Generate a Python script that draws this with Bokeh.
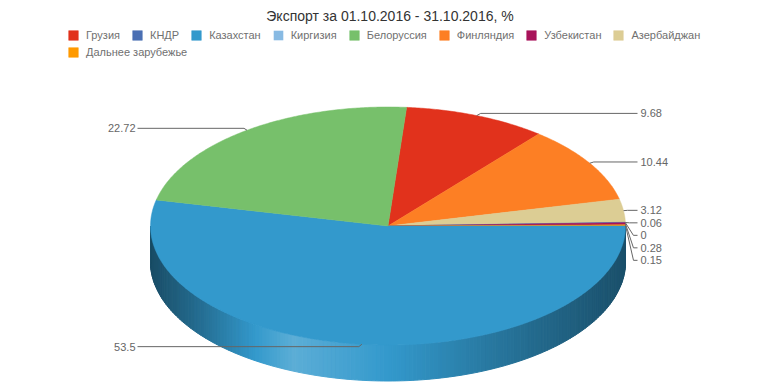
import math
import numpy as np
from bokeh.plotting import figure
from bokeh.models import Range1d, Legend, LegendItem, Label, ColumnDataSource
from bokeh.embed import file_html
from bokeh.resources import INLINE
from bokeh.core.properties import value

# ---------------- data ----------------
title_text = "Экспорт за 01.10.2016 - 31.10.2016, %"
countries = ["Грузия", "КНДР", "Казахстан", "Киргизия", "Белоруссия",
             "Финляндия", "Узбекистан", "Азербайджан", "Дальнее зарубежье"]
shares = [9.68, 0.06, 53.5, 0, 22.72, 10.44, 0.28, 3.12, 0.15]
colors = ["#e1321c", "#4b6fb3", "#3399cc", "#88bae3", "#77c06b",
          "#fd7f24", "#a8135a", "#dccd94", "#ff9a00"]
# clockwise order of the slices, starting near 12 o'clock
pie_order = ["Грузия", "Финляндия", "Азербайджан", "КНДР", "Киргизия",
             "Узбекистан", "Дальнее зарубежье", "Казахстан", "Белоруссия"]
start_angle = 4.5  # degrees clockwise from top

# ---------------- layout ----------------
FIG_W, FIG_H = 774, 387
CX, CY = 387.5, 225.5       # pie centre in pixels
RX, RY = 237.5, 119.0       # ellipse radii (pixels)
DEPTH = 36.0 / RY           # 3D depth in data units
FONT = "Liberation Sans"

def dx(px):   # pixel x -> data x
    return (px - CX) / RX

def dy(py):   # pixel y -> data y
    return (CY - py) / RY

p = figure(width=FIG_W, height=FIG_H,
           x_range=Range1d(-CX / RX, (FIG_W - CX) / RX),
           y_range=Range1d(-(FIG_H - CY) / RY, CY / RY),
           output_backend="svg", toolbar_location=None,
           x_axis_type=None, y_axis_type=None, min_border=0,
           outline_line_color=None)
p.background_fill_color = "white"
p.border_fill_color = "white"
p.xgrid.visible = False
p.ygrid.visible = False

cmap = dict(zip(countries, colors))
vmap = dict(zip(countries, shares))
total = float(sum(shares))

# angles for each slice
angles = {}
a = start_angle
for name in pie_order:
    span = vmap[name] / total * 360.0
    angles[name] = (a, a + span)
    a += span

def hex2rgb(h):
    h = h.lstrip("#")
    return [int(h[i:i + 2], 16) for i in (0, 2, 4)]

def shade(hexc, t):
    r = hex2rgb(hexc)
    if t < 0:
        r = [c * (1 + t) for c in r]
    else:
        r = [c + (255 - c) * t for c in r]
    return "#%02x%02x%02x" % tuple(int(round(max(0, min(255, c)))) for c in r)

grad_f = [0.0, 0.12, 0.30, 0.45, 0.60, 0.80, 1.0]
grad_t = [-0.50, -0.25, 0.20, 0.05, -0.10, -0.30, -0.48]

# ---------------- side (front half) ----------------
sx, sy, sc = [], [], []
for name in pie_order:
    a0, a1 = angles[name]
    lo, hi = max(a0, 90.0), min(a1, 270.0)
    if hi <= lo:
        continue
    n = max(1, int(math.ceil((hi - lo) / 1.0)))
    th = np.radians(np.linspace(lo, hi, n + 1))
    for i in range(n):
        t1, t2 = th[i], th[i + 1]
        x1, x2 = math.sin(t1), math.sin(t2)
        y1, y2 = math.cos(t1), math.cos(t2)
        sx.append([x1, x2, x2, x1])
        sy.append([y1, y2, y2 - DEPTH, y1 - DEPTH])
        f = ((x1 + x2) / 2 + 1) / 2
        sc.append(shade(cmap[name], float(np.interp(f, grad_f, grad_t))))
side_src = ColumnDataSource(dict(xs=sx, ys=sy, c=sc))
p.patches("xs", "ys", source=side_src, fill_color="c", line_color="c", line_width=1)

# ---------------- top face ----------------
renderers = {}
for name in pie_order:
    a0, a1 = angles[name]
    n = max(2, int(math.ceil((a1 - a0) / 0.5)) + 1)
    th = np.radians(np.linspace(a0, a1, n))
    xs = [0.0] + list(np.sin(th))
    ys = [0.0] + list(np.cos(th))
    r = p.patch(xs, ys, fill_color=cmap[name], line_color=cmap[name],
                line_width=0.5 if vmap[name] > 0 else 0)
    renderers[name] = r

# ---------------- value labels ----------------
right_lx, right_tx = dx(637), dx(640)
left_lx, left_tx = dx(137), dx(135)
lab_x, lab_y, lab_t, lab_align = [], [], [], []
line_xs, line_ys = [], []
prev_py = -1e9
gap = 12.5
for name in pie_order:
    a0, a1 = angles[name]
    mid = math.radians((a0 + a1) / 2)
    ex, ey = math.sin(mid), math.cos(mid)
    ly_page = CY - 1.02 * RY * math.cos(mid)
    if math.sin(mid) >= 0:
        if ly_page < prev_py + gap:
            ly_page = prev_py + gap
        prev_py = ly_page
        ly = dy(ly_page)
        kink = 4.0 / RX if abs(ly_page - (CY - RY * ey)) < 3 else 8.0 / RX
        line_xs.append([ex, ex + kink, right_lx])
        line_ys.append([ey, ly, ly])
        lab_x.append(right_tx)
        lab_align.append("left")
    else:
        ly = dy(ly_page)
        line_xs.append([ex, ex - 3.0 / RX, left_lx])
        line_ys.append([ey, ly, ly])
        lab_x.append(left_tx)
        lab_align.append("right")
    lab_y.append(ly)
    lab_t.append("%g" % vmap[name])

p.multi_line(line_xs, line_ys, line_color="#666666", line_width=1)
lab_src = ColumnDataSource(dict(x=lab_x, y=lab_y, t=lab_t, al=lab_align))
p.text("x", "y", text="t", source=lab_src, text_align="al",
       text_baseline="middle", text_font=value(FONT),
       text_font_size="11px", text_color="#666666")

# ---------------- title ----------------
p.add_layout(Label(x=389.5, y=FIG_H - 15, x_units="screen", y_units="screen",
                   text=title_text, text_align="center", text_baseline="middle",
                   text_font=FONT, text_font_size="14px", text_color="#333333"))

# ---------------- legend ----------------
items = [LegendItem(label=c, renderers=[renderers[c]]) for c in countries]

def make_legend(its, loc):
    return Legend(items=its, location=loc, orientation="horizontal",
                  glyph_width=12, glyph_height=12, label_standoff=7,
                  spacing=11, padding=0, margin=0, label_height=12,
                  label_text_font=FONT, label_text_font_size="11px",
                  label_text_color="#707070", border_line_alpha=0,
                  background_fill_alpha=0)

p.add_layout(make_legend(items[:8], (67, FIG_H - 41)))
p.add_layout(make_legend(items[8:], (67, FIG_H - 58)))

open("out.html", "w").write(file_html(p, INLINE))
